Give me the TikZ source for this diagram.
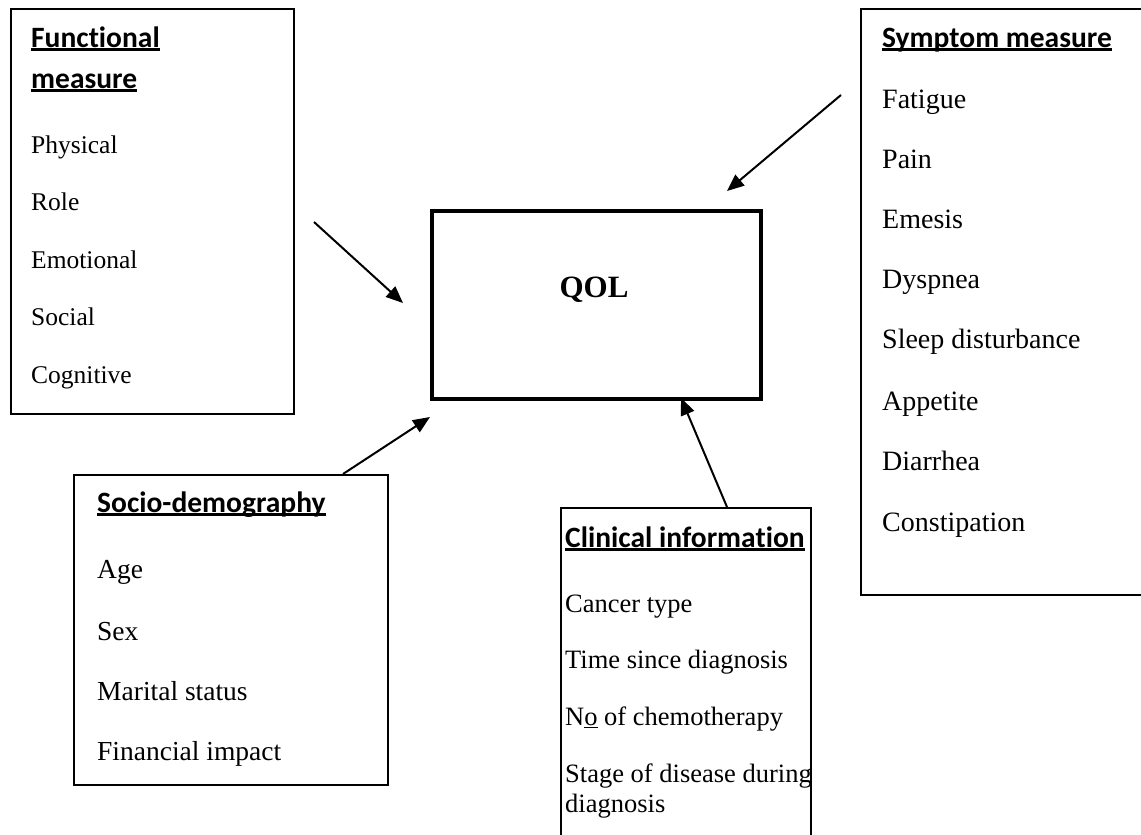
\documentclass[tikz,border=0pt]{standalone}
\usepackage{fontspec}
\setmainfont{Liberation Serif}
\newfontfamily\headfont[Ligatures=NoCommon]{Carlito}
\usetikzlibrary{arrows.meta}
\newcommand\ulh[1]{\setbox0=\hbox{#1}\rlap{\rule[-0.13em]{\wd0}{0.08em}}\box0\relax}
\newcommand\ulthin[1]{\setbox0=\hbox{#1}\rlap{\rule[-0.12em]{\wd0}{0.04em}}\box0\relax}
\tikzset{
  x=1pt, y=-1pt,
  frame/.style={draw, line width=1.5pt, inner sep=0pt, anchor=north west},
  qolbox/.style={draw, line width=4pt, inner sep=0pt, anchor=north west},
  txt/.style={anchor=base west, inner sep=0pt},
  head/.style={txt, font=\headfont\bfseries\fontsize{29.5}{32}\selectfont},
  itemF/.style={txt, font=\fontsize{25.5}{30}\selectfont},
  itemS/.style={txt, font=\fontsize{28}{30}\selectfont},
  itemD/.style={txt, font=\fontsize{27.5}{30}\selectfont},
  itemC/.style={txt, font=\fontsize{26.5}{30}\selectfont},
  arr/.style={line width=2pt, -{Triangle[length=17pt,width=14pt]}}
}
\begin{document}
\begin{tikzpicture}
\useasboundingbox (0,0) rectangle (1141,835);
\clip (0,0) rectangle (1141,835);
% boxes
\node[frame, minimum width=283pt, minimum height=405pt] (fbox) at (10,8) {};
\node[frame, minimum width=320pt, minimum height=586pt] (sbox) at (860,8) {};
\node[frame, minimum width=314pt, minimum height=310pt] (dbox) at (73,474) {};
\node[frame, minimum width=250pt, minimum height=380pt] (cbox) at (560,507) {};
\node[qolbox, minimum width=329pt, minimum height=188pt] (qol) at (430,209) {};
\node[anchor=base, inner sep=0pt, font=\bfseries\fontsize{31}{34}\selectfont] (qoltxt) at (594,297) {QOL};
% functional
\node[head] (fh1) at (31,47) {\ulh{Functional}};
\node[head] (fh2) at (31,88) {\ulh{measure}};
\node[itemF] (f1) at (31,153) {Physical};
\node[itemF] (f2) at (31,210) {Role};
\node[itemF] (f3) at (31,268) {Emotional};
\node[itemF] (f4) at (31,325) {Social};
\node[itemF] (f5) at (31,383) {Cognitive};
% symptom
\node[head] (sh) at (882,47) {\ulh{Symptom measure}};
\node[itemS] (s1) at (882,108) {Fatigue};
\node[itemS] (s2) at (882,168) {Pain};
\node[itemS] (s3) at (882,228) {Emesis};
\node[itemS] (s4) at (882,288) {Dyspnea};
\node[itemS] (s5) at (882,348) {Sleep disturbance};
\node[itemS] (s6) at (882,410) {Appetite};
\node[itemS] (s7) at (882,470) {Diarrhea};
\node[itemS] (s8) at (882,531) {Constipation};
% socio
\node[head] (dh) at (97,512) {\ulh{Socio-demography}};
\node[itemD] (d1) at (97,578) {Age};
\node[itemD] (d2) at (97,640) {Sex};
\node[itemD] (d3) at (97,700) {Marital status};
\node[itemD] (d4) at (97,760) {Financial impact};
% clinical
\node[head] (ch) at (565,547) {\ulh{Clinical information}};
\node[itemC] (c1) at (565,612) {Cancer type};
\node[itemC] (c2) at (565,668) {Time since diagnosis};
\node[itemC] (c3) at (565,725) {N\ulthin{o} of chemotherapy};
\node[itemC] (c4) at (565,782) {Stage of disease during};
\node[itemC] (c5) at (565,812) {diagnosis};
% arrows
\coordinate (fa) at (314,222);
\coordinate (fq) at (403,303);
\coordinate (sa) at (841,95);
\coordinate (sq) at (727,191);
\coordinate (da) at (343,474);
\coordinate (dq) at (430,417);
\coordinate (ca) at (727,507);
\coordinate (cq) at (681,398);
\draw[arr] (fa) -- (fq);
\draw[arr] (sa) -- (sq);
\draw[arr] (da) -- (dq);
\draw[arr] (ca) -- (cq);
\end{tikzpicture}
\end{document}
